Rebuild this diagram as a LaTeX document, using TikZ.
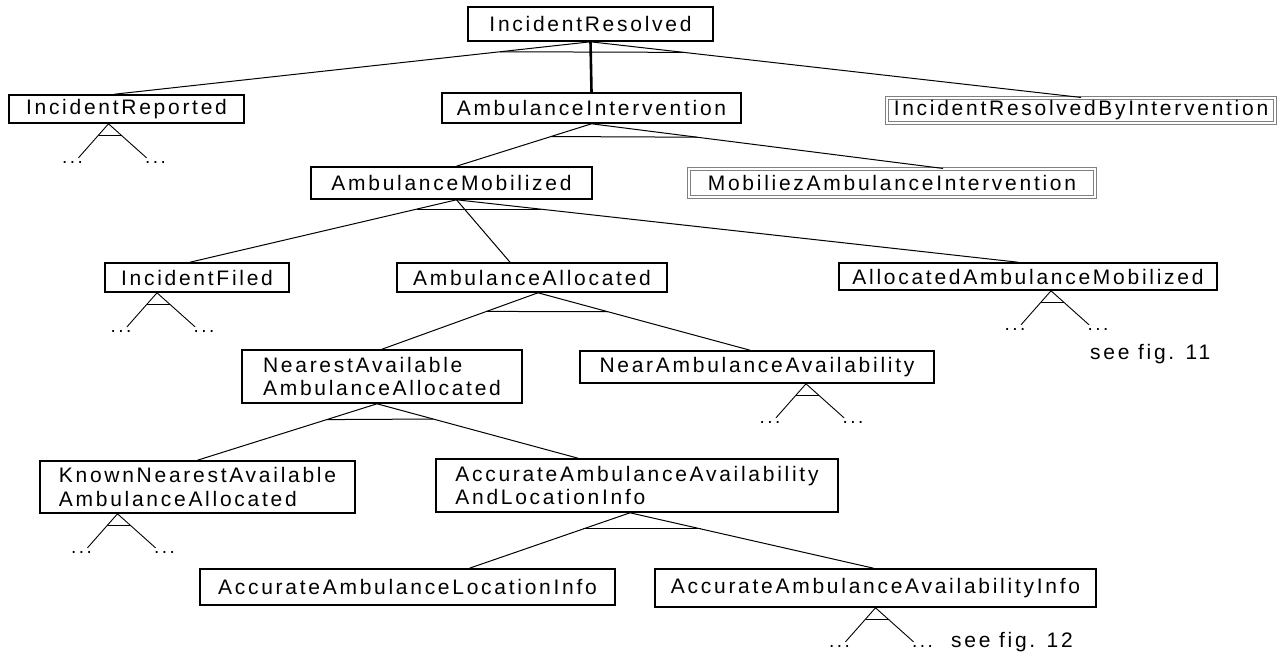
\documentclass[tikz,border=0pt]{standalone}
\usepackage{fontspec}
\setmainfont{Liberation Sans}[LetterSpace=13]
\usetikzlibrary{calc}

\begin{document}
\begin{tikzpicture}[x=1pt, y=-1pt,
  goal/.style={draw, line width=1.6pt, inner sep=0pt, align=left, font=\fontsize{21}{23.5}\selectfont},
  altgoal/.style={goal, draw=gray, line width=1.1pt, double=white, double distance=1.8pt},
  link/.style={line width=1pt},
  leg/.style={line width=0.9pt},
  dots/.style={anchor=base, inner sep=0pt, font=\fontsize{19}{19}\selectfont},
  note/.style={anchor=base west, inner sep=0pt, font=\fontsize{21}{23.5}\selectfont}]
\useasboundingbox (0,0) rectangle (1284,655);

% Goals
\node[goal, minimum width=245pt, minimum height=34pt] (root) at (590.5,24) {IncidentResolved};
\node[goal, minimum width=235pt, minimum height=28pt] (irep) at (126.5,109) {IncidentReported};
\node[goal, minimum width=299pt, minimum height=30pt] (ainter) at (591.5,108) {AmbulanceIntervention};
\node[altgoal, minimum width=388pt, minimum height=25pt] (irbi) at (1081,110.5) {IncidentResolvedByIntervention};
\node[goal, minimum width=281pt, minimum height=32pt] (amob) at (451.5,183) {AmbulanceMobilized};
\node[altgoal, minimum width=406pt, minimum height=28pt] (maint) at (892,183) {MobiliezAmbulanceIntervention};
\node[goal, minimum width=184pt, minimum height=29pt] (ifiled) at (197,277.5) {IncidentFiled};
\node[goal, minimum width=270pt, minimum height=29pt] (aalloc) at (532,277.5) {AmbulanceAllocated};
\node[goal, minimum width=378pt, minimum height=27pt] (aamob) at (1028,276.5) {AllocatedAmbulanceMobilized};
\node[goal, minimum width=280pt, minimum height=53pt] (naaalloc) at (382,376.5) {NearestAvailable\\AmbulanceAllocated};
\node[goal, minimum width=354pt, minimum height=32pt] (naavail) at (757,367) {NearAmbulanceAvailability};
\node[goal, minimum width=315pt, minimum height=52pt] (knaa) at (197.5,487) {KnownNearestAvailable\\AmbulanceAllocated};
\node[goal, minimum width=402pt, minimum height=53pt] (aaali) at (637,485.5) {AccurateAmbulanceAvailability\\AndLocationInfo};
\node[goal, minimum width=415pt, minimum height=36pt] (aali) at (407.5,587) {AccurateAmbulanceLocationInfo};
\node[goal, minimum width=441pt, minimum height=38pt] (aavi) at (875.5,588) {AccurateAmbulanceAvailabilityInfo};

% Refinement of IncidentResolved
\draw[link] (root.south) -- ([xshift=-12pt]irep.north);
\draw[link] (root.south) -- (irbi.north);
\draw[line width=2.6pt] (root.south) -- (ainter.north);
\draw[link] ($(root.south)!0.19!([xshift=-12pt]irep.north)$) -- ($(root.south)!0.19!(irbi.north)$);

% Refinement of AmbulanceIntervention
\draw[link] (ainter.south) -- ([xshift=5pt]amob.north);
\draw[link] (ainter.south) -- ([xshift=51pt]maint.north);
\draw[link] ($(ainter.south)!0.3!([xshift=5pt]amob.north)$) -- ($(ainter.south)!0.3!([xshift=51pt]maint.north)$);

% Refinement of AmbulanceMobilized
\coordinate (amobs) at ([xshift=5pt]amob.south);
\draw[link] (amobs) -- ([xshift=-7pt]ifiled.north);
\draw[link] (amobs) -- ([xshift=-22pt]aalloc.north);
\draw[link] (amobs) -- ([xshift=-10pt]aamob.north);
\draw[link] ($(amobs)!0.15!([xshift=-7pt]ifiled.north)$) -- ($(amobs)!0.15!([xshift=-10pt]aamob.north)$);

% Refinement of AmbulanceAllocated
\coordinate (aallocs) at ([xshift=6pt]aalloc.south);
\draw[link] (aallocs) -- (naaalloc.north);
\draw[link] (aallocs) -- ([xshift=-7pt]naavail.north);
\draw[link] ($(aallocs)!0.33!(naaalloc.north)$) -- ($(aallocs)!0.33!([xshift=-7pt]naavail.north)$);

% Refinement of NearestAvailableAmbulanceAllocated
\coordinate (naas) at ([xshift=-5pt]naaalloc.south);
\draw[link] (naas) -- (knaa.north);
\draw[link] (naas) -- ([xshift=-59pt]aaali.north);
\draw[link] ($(naas)!0.28!(knaa.north)$) -- ($(naas)!0.28!([xshift=-59pt]aaali.north)$);

% Refinement of AccurateAmbulanceAvailabilityAndLocationInfo
\coordinate (aaalis) at ([xshift=-7pt]aaali.south);
\draw[link] (aaalis) -- ([xshift=62pt]aali.north);
\draw[link] (aaalis) -- ([xshift=-2pt]aavi.north);
\draw[link] ($(aaalis)!0.29!([xshift=62pt]aali.north)$) -- ($(aaalis)!0.29!([xshift=-2pt]aavi.north)$);

% Stubs (subtrees not shown)
\coordinate (s1) at ([xshift=-18pt]irep.south);
\draw[leg] ($(s1)+(-30,34)$) coordinate (s1l) -- (s1) -- ($(s1)+(38,34)$) coordinate (s1r);
\draw[leg] ($(s1)!0.33!(s1l)$) -- ($(s1)!0.33!(s1r)$);
\node[dots] (s1a) at ($(s1)+(-36,40)$) {...};
\node[dots] (s1b) at ($(s1)+(47,40)$) {...};

\coordinate (s2) at ([xshift=-40pt]ifiled.south);
\draw[leg] ($(s2)+(-30,34)$) coordinate (s2l) -- (s2) -- ($(s2)+(38,34)$) coordinate (s2r);
\draw[leg] ($(s2)!0.33!(s2l)$) -- ($(s2)!0.33!(s2r)$);
\node[dots] (s2a) at ($(s2)+(-36,40)$) {...};
\node[dots] (s2b) at ($(s2)+(47,40)$) {...};

\coordinate (s3) at ([xshift=23pt]aamob.south);
\draw[leg] ($(s3)+(-30,34)$) coordinate (s3l) -- (s3) -- ($(s3)+(38,34)$) coordinate (s3r);
\draw[leg] ($(s3)!0.33!(s3l)$) -- ($(s3)!0.33!(s3r)$);
\node[dots] (s3a) at ($(s3)+(-36,40)$) {...};
\node[dots] (s3b) at ($(s3)+(47,40)$) {...};
\node[note] (fig11) at (1090,359) {see fig. 11};

\coordinate (s4) at ([xshift=49pt]naavail.south);
\draw[leg] ($(s4)+(-30,34)$) coordinate (s4l) -- (s4) -- ($(s4)+(38,34)$) coordinate (s4r);
\draw[leg] ($(s4)!0.33!(s4l)$) -- ($(s4)!0.33!(s4r)$);
\node[dots] (s4a) at ($(s4)+(-36,40)$) {...};
\node[dots] (s4b) at ($(s4)+(47,40)$) {...};

\coordinate (s5) at ([xshift=-80pt]knaa.south);
\draw[leg] ($(s5)+(-30,34)$) coordinate (s5l) -- (s5) -- ($(s5)+(38,34)$) coordinate (s5r);
\draw[leg] ($(s5)!0.33!(s5l)$) -- ($(s5)!0.33!(s5r)$);
\node[dots] (s5a) at ($(s5)+(-36,40)$) {...};
\node[dots] (s5b) at ($(s5)+(47,40)$) {...};

\coordinate (s6) at (aavi.south);
\draw[leg] ($(s6)+(-30,34)$) coordinate (s6l) -- (s6) -- ($(s6)+(38,34)$) coordinate (s6r);
\draw[leg] ($(s6)!0.33!(s6l)$) -- ($(s6)!0.33!(s6r)$);
\node[dots] (s6a) at ($(s6)+(-36,40)$) {...};
\node[dots] (s6b) at ($(s6)+(47,40)$) {...};
\node[note] (fig12) at (951,647) {see fig. 12};

\end{tikzpicture}
\end{document}
